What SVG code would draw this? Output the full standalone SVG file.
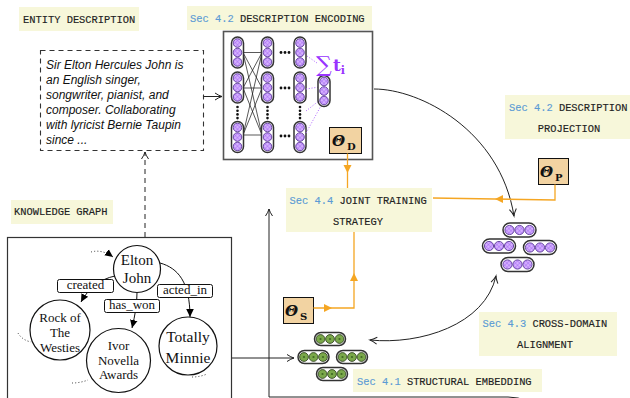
<svg xmlns="http://www.w3.org/2000/svg" width="630" height="398" viewBox="0 0 630 398">
  <style>
    .lbl { fill: #f7f7da; }
    .mono { font-family: "Liberation Mono", "DejaVu Sans Mono", monospace; font-size: 10.4px; fill: #222; stroke: #222; stroke-width: 0.15; }
    .sec { fill: #5b9bd5; stroke: #5b9bd5; }
    .desc { font-family: "Liberation Sans", Arial, sans-serif; font-style: italic; font-size: 12px; fill: #111; }
    .serif { font-family: "Liberation Serif", "DejaVu Serif", serif; fill: #111; text-anchor: middle; }
    .node { fill: #fff; stroke: #111; stroke-width: 1.2; }
    .edge { fill: none; stroke: #111; stroke-width: 1; }
    .elbl { fill: #fff; stroke: #111; stroke-width: 1; }
    .dotted { fill: none; stroke: #333; stroke-width: 1; stroke-dasharray: 1,2.2; }
    .conn { fill: none; stroke: #222; stroke-width: 1; }
    .orange { fill: none; stroke: #f5a623; stroke-width: 1.3; }
    .ohead { fill: #f5a623; }
    .theta { fill: #f2d3a2; stroke: #111; stroke-width: 1; }
    .th { font-family: "DejaVu Serif", "Liberation Serif", serif; font-weight: bold; font-style: italic; font-size: 15px; fill: #111; }
    .sub { font-family: "DejaVu Serif", "Liberation Serif", serif; font-weight: bold; font-size: 10px; fill: #111; }
    .pill { fill: #fff; stroke: #333; stroke-width: 1.5; }
    .pc { fill: url(#hatchP); stroke: #4a2a8a; stroke-width: 0.8; }
    .gc { fill: #7aa84a; stroke: #2a3a1a; stroke-width: 0.8; }
    .nnline { stroke: #111; stroke-width: 0.7; }
    .pdot { fill: none; stroke: #b066ff; stroke-width: 1; stroke-dasharray: 1,1.8; }
  </style>
  <defs>
    <pattern id="hatchP" width="3" height="3" patternUnits="userSpaceOnUse" patternTransform="rotate(45)">
      <rect width="3" height="3" fill="#d6b0ff"/>
      <path d="M0,0 L0,3 M0,0 L3,0" stroke="#9a5cf0" stroke-width="0.8"/>
    </pattern>
    <marker id="open" viewBox="-8 -5 10 10" refX="0" refY="0" markerWidth="10" markerHeight="10" markerUnits="userSpaceOnUse" orient="auto-start-reverse">
      <path d="M-7,-3.5 Q-3,-0.8 0,0 Q-3,0.8 -7,3.5" fill="none" stroke="#222" stroke-width="1"/>
    </marker>
    <marker id="solid" viewBox="-8 -5 10 10" refX="0" refY="0" markerWidth="10" markerHeight="10" markerUnits="userSpaceOnUse" orient="auto">
      <path d="M-8,-3.8 L0,0 L-8,3.8 z" fill="#000"/>
    </marker>
    <g id="vpill">
      <rect class="pill" x="-6" y="-15.5" width="12" height="31" rx="6"/>
      <circle class="pc" cx="0" cy="-9.5" r="4.3"/>
      <circle class="pc" cx="0" cy="0" r="4.3"/>
      <circle class="pc" cx="0" cy="9.5" r="4.3"/>
    </g>
    <g id="hpillP">
      <rect class="pill" x="-16.5" y="-7" width="33" height="14" rx="7"/>
      <circle class="pc" cx="-10" cy="0" r="4.6"/>
      <circle class="pc" cx="0" cy="0" r="4.6"/>
      <circle class="pc" cx="10" cy="0" r="4.6"/>
    </g>
    <g id="gcircle">
      <circle class="gc" cx="0" cy="0" r="4.4"/>
      <circle cx="0" cy="0" r="1.1" fill="#3f6a22"/>
    </g>
    <g id="hpillG">
      <rect class="pill" x="-15.5" y="-6.5" width="31" height="13" rx="6.5"/>
      <use href="#gcircle" x="-9.5"/>
      <use href="#gcircle"/>
      <use href="#gcircle" x="9.5"/>
    </g>
    <g id="vdots">
      <circle cx="0" cy="0" r="1.3" fill="#111"/>
      <circle cx="0" cy="3.7" r="1.3" fill="#111"/>
      <circle cx="0" cy="7.4" r="1.3" fill="#111"/>
      <circle cx="0" cy="11.1" r="1.3" fill="#111"/>
    </g>
    <g id="hdots">
      <circle cx="0" cy="0" r="1.4" fill="#111"/>
      <circle cx="4" cy="0" r="1.4" fill="#111"/>
      <circle cx="8" cy="0" r="1.4" fill="#111"/>
    </g>
  </defs>

  <rect width="630" height="398" fill="#fff"/>

  <!-- section labels -->
  <g id="label-entity">
    <rect class="lbl" x="19" y="7" width="120" height="24"/>
    <text class="mono" x="23" y="22.5">ENTITY DESCRIPTION</text>
  </g>
  <g id="label-encoding">
    <rect class="lbl" x="187" y="6" width="185" height="24"/>
    <text class="mono" x="190" y="22"><tspan class="sec">Sec 4.2</tspan> DESCRIPTION ENCODING</text>
  </g>
  <g id="label-projection">
    <rect class="lbl" x="505" y="95" width="125" height="44"/>
    <text class="mono" x="509" y="111"><tspan class="sec">Sec 4.2</tspan> DESCRIPTION</text>
    <text class="mono" x="569" y="131.5" text-anchor="middle">PROJECTION</text>
  </g>
  <g id="label-kg">
    <rect class="lbl" x="11" y="200" width="102" height="24"/>
    <text class="mono" x="14" y="215">KNOWLEDGE GRAPH</text>
  </g>
  <g id="label-alignment">
    <rect class="lbl" x="479" y="312" width="138" height="44"/>
    <text class="mono" x="482.5" y="327"><tspan class="sec">Sec 4.3</tspan> CROSS-DOMAIN</text>
    <text class="mono" x="545" y="348" text-anchor="middle">ALIGNMENT</text>
  </g>
  <g id="label-structural">
    <rect class="lbl" x="353" y="369" width="189" height="23"/>
    <text class="mono" x="357" y="384.5"><tspan class="sec">Sec 4.1</tspan> STRUCTURAL EMBEDDING</text>
  </g>

  <!-- entity description text -->
  <g id="description">
    <rect x="40.5" y="50.5" width="163" height="100" fill="none" stroke="#333" stroke-width="1.1" stroke-dasharray="5,4"/>
    <text class="desc" x="46" y="69">Sir Elton Hercules John is</text>
    <text class="desc" x="46" y="84">an English singer,</text>
    <text class="desc" x="46" y="99">songwriter, pianist, and</text>
    <text class="desc" x="46" y="114">composer. Collaborating</text>
    <text class="desc" x="46" y="129">with lyricist Bernie Taupin</text>
    <text class="desc" x="46" y="144">since ...</text>
  </g>

  <!-- description encoder network -->
  <g id="encoder">
    <rect x="223.5" y="31.5" width="149" height="128" fill="#fff" stroke="#555" stroke-width="1.6"/>
    <g class="nnline">
      <line x1="243" y1="52.5" x2="262" y2="52.5"/>
      <line x1="243" y1="52.5" x2="262" y2="88"/>
      <line x1="243" y1="52.5" x2="262" y2="135"/>
      <line x1="243" y1="88" x2="262" y2="52.5"/>
      <line x1="243" y1="88" x2="262" y2="88"/>
      <line x1="243" y1="88" x2="262" y2="135"/>
      <line x1="243" y1="135" x2="262" y2="52.5"/>
      <line x1="243" y1="135" x2="262" y2="88"/>
      <line x1="243" y1="135" x2="262" y2="135"/>
    </g>
    <use href="#vpill" x="237.5" y="52.5"/>
    <use href="#vpill" x="237.5" y="87.5"/>
    <use href="#vpill" x="237.5" y="137"/>
    <use href="#vpill" x="267.5" y="52.5"/>
    <use href="#vpill" x="267.5" y="87.5"/>
    <use href="#vpill" x="267.5" y="137"/>
    <use href="#vpill" x="300" y="52.5"/>
    <use href="#vpill" x="300" y="87.5"/>
    <use href="#vpill" x="300" y="137"/>
    <use href="#vdots" x="237.5" y="107"/>
    <use href="#vdots" x="267.5" y="107"/>
    <use href="#vdots" x="300" y="107"/>
    <use href="#hdots" x="281" y="52.5"/>
    <use href="#hdots" x="281" y="88"/>
    <use href="#hdots" x="281" y="136"/>
    <path class="pdot" d="M307,56 L317,63 M306,89 L319,87 M306,111 L320,100 M306,133 L322,104"/>
    <use href="#vpill" x="324" y="91"/>
    <text x="316" y="72" font-family="DejaVu Serif, serif" font-size="22" fill="#9933ff">∑</text>
    <text x="333" y="71" font-family="DejaVu Serif, serif" font-weight="bold" font-size="17" fill="#9933ff">t<tspan font-size="11" dy="3">i</tspan></text>
  </g>

  <!-- parameter boxes -->
  <g id="theta-d">
    <rect class="theta" x="329.5" y="127.5" width="32" height="26"/>
    <text class="th" x="332" y="146">Θ</text>
    <text class="sub" x="347" y="150">D</text>
  </g>
  <g id="theta-p">
    <rect class="theta" x="538.5" y="158.5" width="30" height="26"/>
    <text class="th" x="540" y="177">Θ</text>
    <text class="sub" x="555" y="181">P</text>
  </g>
  <g id="theta-s">
    <rect class="theta" x="283.5" y="297.5" width="30" height="26"/>
    <text class="th" x="285" y="316">Θ</text>
    <text class="sub" x="300" y="320">S</text>
  </g>

  <!-- joint training -->
  <g id="label-joint">
    <rect class="lbl" x="286" y="188" width="146" height="44"/>
    <text class="mono" x="289.5" y="204"><tspan class="sec">Sec 4.4</tspan> JOINT TRAINING</text>
    <text class="mono" x="358" y="225" text-anchor="middle">STRATEGY</text>
  </g>

  <!-- knowledge graph -->
  <g id="kg">
    <rect x="7.5" y="237.5" width="224" height="175" fill="#fff" stroke="#333" stroke-width="1.2"/>
    <g id="kg-edges">
      <path class="edge" d="M115,276 C100,279 88,289 81,302" marker-end="url(#solid)"/>
      <path class="edge" d="M137,292.5 C137,305 135,315 132,328" marker-end="url(#solid)"/>
      <path class="edge" d="M160,263 C178,268 190,282 190,317" marker-end="url(#solid)"/>
      <path class="dotted" d="M91,252 Q102,249 113,257" marker-end="url(#solid)"/>
      <path class="dotted" d="M18,333 Q22,340 31,342"/>
      <path class="dotted" d="M72,383 Q80,383 88,380"/>
      <path class="dotted" d="M192,377 Q200,377 207,374"/>
    </g>
    <g id="kg-elton">
      <circle class="node" cx="137" cy="269" r="23.5"/>
      <text class="serif" x="137" y="265" font-size="15">Elton</text>
      <text class="serif" x="137" y="283" font-size="15">John</text>
    </g>
    <g id="kg-rock">
      <circle class="node" cx="60" cy="330" r="30"/>
      <text class="serif" x="60" y="321.5" font-size="13">Rock of</text>
      <text class="serif" x="60" y="337" font-size="13">The</text>
      <text class="serif" x="60" y="351.5" font-size="13">Westies</text>
    </g>
    <g id="kg-ivor">
      <circle class="node" cx="118.5" cy="360.5" r="32"/>
      <text class="serif" x="118.5" y="350" font-size="13">Ivor</text>
      <text class="serif" x="118.5" y="365" font-size="13">Novella</text>
      <text class="serif" x="118.5" y="379" font-size="13">Awards</text>
    </g>
    <g id="kg-totally">
      <circle class="node" cx="188" cy="346" r="29"/>
      <text class="serif" x="188" y="342" font-size="15.5">Totally</text>
      <text class="serif" x="188" y="362.5" font-size="15.5">Minnie</text>
    </g>
    <g id="kg-edge-labels">
      <rect class="elbl" x="57.5" y="279.5" width="56" height="13" rx="2"/>
      <text class="serif" x="85.5" y="289" font-size="13">created</text>
      <rect class="elbl" x="104.5" y="299.5" width="55" height="13" rx="2"/>
      <text class="serif" x="132" y="308.5" font-size="13">has_won</text>
      <rect class="elbl" x="157.5" y="284.5" width="55" height="13" rx="2"/>
      <text class="serif" x="185" y="293.5" font-size="13">acted_in</text>
    </g>
  </g>

  <!-- embedding clusters -->
  <g id="aligned-embeddings">
    <use href="#hpillP" x="519.5" y="230"/>
    <use href="#hpillP" x="499" y="246"/>
    <use href="#hpillP" x="540" y="247.5"/>
    <use href="#hpillP" x="517.5" y="264.5"/>
  </g>
  <g id="structural-embeddings">
    <use href="#hpillG" x="330" y="339"/>
    <use href="#hpillG" x="313.5" y="357"/>
    <use href="#hpillG" x="352" y="357"/>
    <use href="#hpillG" x="332" y="374"/>
  </g>

  <!-- connectors -->
  <g id="connectors">
    <path class="conn" d="M203.5,96.5 L222,96.5" marker-end="url(#open)"/>
    <path class="conn" d="M145,237 L145,152" stroke-dasharray="5,4" marker-end="url(#open)"/>
    <path class="conn" d="M232,358 L294,358" marker-end="url(#open)"/>
    <path class="conn" d="M374,89 C420,89 500,130 514,216" marker-end="url(#open)"/>
    <path class="conn" d="M370,340 C420,345 485,325 496,276" marker-start="url(#open)" marker-end="url(#open)"/>
    <path class="conn" d="M528,401 Q518,397 508,397 L269,397 L269,209" marker-end="url(#open)"/>
    <!-- parameter flows into the joint objective -->
    <path class="orange" d="M347.5,153.5 L347.5,188"/>
    <polygon class="ohead" points="343.5,165 351.5,165 347.5,173"/>
    <path class="orange" d="M555,184.5 L555,200 L433,198"/>
    <polygon class="ohead" points="503,195 503,203 495,199"/>
    <path class="orange" d="M313.5,308 L354,308 L354,232"/>
    <polygon class="ohead" points="324,304 324,312 332,308"/>
    <polygon class="ohead" points="350,281 358,281 354,273"/>
  </g>
</svg>
